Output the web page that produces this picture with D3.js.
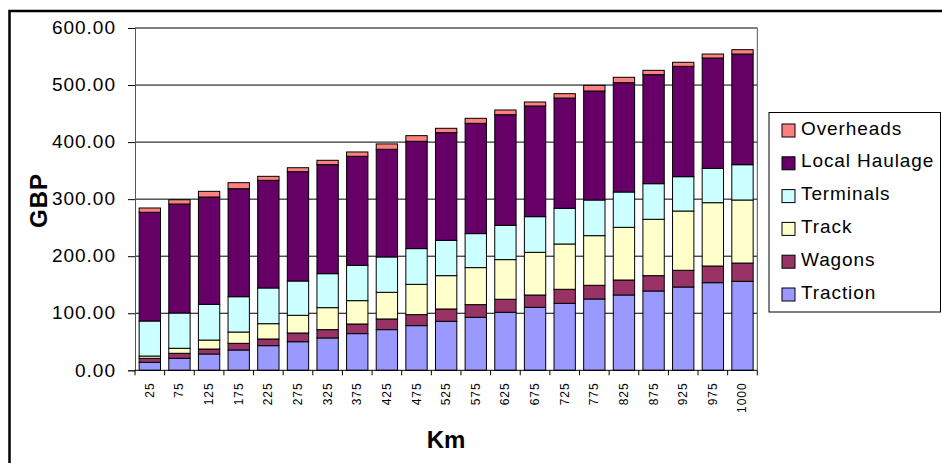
<!DOCTYPE html>
<html>
<head>
<meta charset="utf-8">
<script src="https://cdn.jsdelivr.net/npm/d3@7"></script>
<style>
  html, body { margin: 0; padding: 0; background: #fff; }
  svg { display: block; font-family: "Liberation Sans", Arial, sans-serif; }
</style>
</head>
<body>
<svg id="chart" width="942" height="463"></svg>
<script>
// Distance bands (km)
const categories = ["25","75","125","175","225","275","325","375","425","475","525",
  "575","625","675","725","775","825","875","925","975","1000"];

// Cost components per band (GBP)
const traction  = [14,21,28.6,35.6,43.2,50.1,56.7,64.3,71.3,78.3,85.9,92.9,101.7,110.4,117.4,125,132,139,146,153.6,156];
const wagons    = [7,8.8,8.7,11.7,11.7,15.3,14.6,16.9,18.7,19.3,21.6,22.2,22.8,21.6,24.6,24,26.3,26.9,29.3,29.2,32];
const track     = [4,8.8,15.7,19.8,26.8,31,38.5,40.9,46.7,53.1,58.4,64.9,69.5,74.8,79.4,87,92.3,98.8,103.9,111,110.5];
const terminals = [61.4,61.8,62.7,61.9,62.6,60.1,59.6,61.9,62,62.6,62,59.6,60.2,62.5,62.6,62.5,61.9,62.4,60.2,60.2,61.9];
const haulage   = [190.6,191.1,188.1,189.3,188.7,191.6,191.1,191.1,188.7,188.1,188.7,193.3,193.8,194,193.3,191.1,191.7,191.1,193.4,193.4,194];
const overheads = [7.5,7.5,9.9,10.6,7,7,7.6,7.6,9.4,9.9,7.6,8.8,8.3,7,7.6,9.9,9.4,7.6,7.1,7,7.6];

const seriesNames = ["Traction","Wagons","Track","Terminals","Local Haulage","Overheads"];
const seriesValues = [traction, wagons, track, terminals, haulage, overheads];
const seriesColors = ["#9999FF","#993366","#FFFFCC","#CCFFFF","#660066","#FF8080"];
const yTicks = [0,100,200,300,400,500,600];

const rows = categories.map((c, i) => {
  const r = { km: c };
  seriesNames.forEach((n, j) => r[n] = seriesValues[j][i]);
  return r;
});

const svg = d3.select("#chart");
const plot = { left: 135, right: 757.3, top: 28, bottom: 370.3 };

// outer chart frame
svg.append("rect")
  .attr("x", 9.5).attr("y", 11)
  .attr("width", 1000).attr("height", 1000)
  .attr("fill", "none").attr("stroke", "#000").attr("stroke-width", 2.5);

const x = d3.scaleBand().domain(categories)
  .range([plot.left, plot.right]).paddingInner(0.28).paddingOuter(0.14);
const y = d3.scaleLinear().domain([0, 600]).range([plot.bottom, plot.top]);

// gridlines
svg.append("g").selectAll("line").data(yTicks.filter(d => d > 0)).join("line")
  .attr("x1", plot.left).attr("x2", plot.right)
  .attr("y1", d => y(d)).attr("y2", d => y(d))
  .attr("stroke", "#000").attr("stroke-width", 1);

// plot area sides
svg.append("line").attr("x1", plot.right).attr("x2", plot.right)
  .attr("y1", plot.top).attr("y2", plot.bottom).attr("stroke", "#555");

// stacked bars
const stack = d3.stack().keys(seriesNames)(rows);
svg.append("g").selectAll("g").data(stack).join("g")
  .attr("fill", (d, i) => seriesColors[i])
  .selectAll("rect").data(d => d).join("rect")
    .attr("x", d => x(d.data.km))
    .attr("width", x.bandwidth())
    .attr("y", d => y(d[1]))
    .attr("height", d => y(d[0]) - y(d[1]))
    .attr("stroke", "#000").attr("stroke-width", 1);

// y axis
const yAxis = svg.append("g").attr("transform", `translate(${plot.left},0)`)
  .call(d3.axisLeft(y).tickValues(yTicks).tickFormat(d3.format(".2f")).tickSize(7).tickPadding(12));
yAxis.select(".domain").attr("stroke", "#555");
yAxis.selectAll(".tick line").attr("stroke", "#000");
yAxis.selectAll("text")
  .attr("font-size", 19).attr("letter-spacing", "1px")
  .attr("fill", "#000").attr("font-family", "Liberation Sans, Arial, sans-serif")
  .attr("dy", "0.3em");

// x axis line and ticks at category boundaries
svg.append("line").attr("x1", plot.left).attr("x2", plot.right)
  .attr("y1", plot.bottom).attr("y2", plot.bottom).attr("stroke", "#000");
const step = x.step();
svg.append("g").selectAll("line").data(d3.range(categories.length + 1)).join("line")
  .attr("x1", i => plot.left + i * step).attr("x2", i => plot.left + i * step)
  .attr("y1", plot.bottom).attr("y2", plot.bottom + 5)
  .attr("stroke", "#000");

svg.append("g").selectAll("text").data(categories).join("text")
  .attr("transform", d => `translate(${x(d) + x.bandwidth() / 2 + 4},${plot.bottom + 12}) rotate(-90)`)
  .attr("text-anchor", "end")
  .attr("font-size", 12).attr("letter-spacing", "1px")
  .text(d => d);

// axis titles
svg.append("text")
  .attr("transform", "translate(46.5,200.5) rotate(-90)")
  .attr("text-anchor", "middle")
  .attr("font-size", 24).attr("font-weight", "bold").attr("letter-spacing", "1px")
  .text("GBP");
svg.append("text")
  .attr("x", 446).attr("y", 448)
  .attr("text-anchor", "middle")
  .attr("font-size", 24).attr("font-weight", "bold")
  .text("Km");

// legend (top series first)
const legend = svg.append("g");
legend.append("rect")
  .attr("x", 769).attr("y", 112.5).attr("width", 171.5).attr("height", 199.5)
  .attr("fill", "#fff").attr("stroke", "#000");
const legendOrder = d3.range(seriesNames.length).reverse();
const item = legend.selectAll("g.item").data(legendOrder).join("g")
  .attr("class", "item")
  .attr("transform", (d, k) => `translate(0,${124 + k * 32.8})`);
item.append("rect")
  .attr("x", 782).attr("y", 0).attr("width", 13).attr("height", 13)
  .attr("fill", d => seriesColors[d]).attr("stroke", "#000");
item.append("text")
  .attr("x", 801).attr("y", 10.5)
  .attr("font-size", 19).attr("letter-spacing", "0.9px")
  .text(d => seriesNames[d]);
</script>
</body>
</html>
